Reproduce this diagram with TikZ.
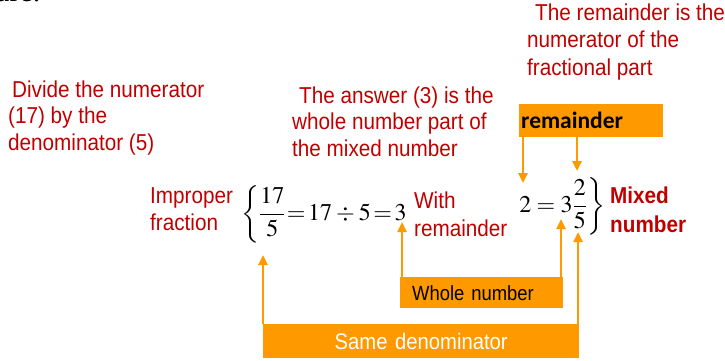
\documentclass[tikz,border=0pt]{standalone}
\usepackage{mathptmx}
\usepackage{fontspec}
\setmainfont{Liberation Serif}
\newfontfamily\notefont{Liberation Sans}[FakeStretch=0.9]
\newfontfamily\remfont{Carlito}
\usetikzlibrary{arrows.meta}
\definecolor{notered}{RGB}{192,0,0}
\definecolor{boxorange}{RGB}{255,153,0}
\tikzset{
    note/.style={text=notered, align=left, inner sep=0pt, anchor=base west,
        font=\notefont\fontsize{23}{26.5}\selectfont},
    mathpart/.style={inner sep=0pt, anchor=base west,
        font=\fontsize{24}{28}\selectfont},
    label box/.style={fill=boxorange, anchor=north west, inner ysep=0pt},
    pointer/.style={draw=boxorange, line width=2.4pt,
        -{Triangle[length=10pt,width=9pt]}},
}
\begin{document}
\begin{tikzpicture}[x=1pt, y=-1pt]
    \useasboundingbox (0,0) rectangle (725,360);

    % cut-off text at the top
    \node[inner sep=0pt, anchor=base west, font=\fontsize{30}{30}\selectfont]
        (are) at (-4,1) {are.};

    % red notes (placed at the baseline of their last line)
    \node[note] (divide) at (8,150)
        {\hspace{4pt}Divide the numerator\\(17) by the\\denominator (5)};
    \node[note] (answer) at (292,156)
        {\hspace{7pt}The answer (3) is the\\whole number part of\\the mixed number};
    \node[note, font=\notefont\fontsize{23}{27.5}\selectfont] (numnote) at (527,75)
        {\hspace{8pt}The remainder is the\\numerator of the\\fractional part};
    \node[note, font=\notefont\fontsize{23}{27}\selectfont] (improperlbl)
        at (150,230) {Improper\\fraction};
    \node[note, font=\notefont\fontsize{23}{28}\selectfont] (withrem) at (414,236)
        {With\\remainder};
    \node[note, font=\notefont\bfseries\fontsize{23}{29}\selectfont] (mixedlbl)
        at (610,232) {Mixed\\number};

    % the two expressions
    \node[mathpart] (improper) at (241,220)
        {$\thickmuskip=2mu \medmuskip=3mu
          \displaystyle\left\{\frac{17}{5}\right.\!=17\div5=3$};
    \node[mathpart] (mixed) at (518,212)
        {$\displaystyle\left.2=3\frac{2}{5}\right\}$};

    % orange boxes
    \node[label box, text width=140pt, inner xsep=2pt, align=left,
        minimum height=33pt, font=\remfont\bfseries\fontsize{23.5}{26}\selectfont]
        (remainder) at (519,104) {remainder};
    \node[label box, text width=139pt, inner xsep=12pt, align=left,
        minimum height=31pt, font=\notefont\fontsize{20.5}{24}\selectfont]
        (whole) at (400,277) {Whole number};
    \node[label box, text width=316pt, inner xsep=0pt, align=center,
        minimum height=34pt, text=white, font=\notefont\fontsize{22.5}{26}\selectfont]
        (samedenom) at (263,324) {Same denominator};

    % arrow tips
    \coordinate (tipA) at (523,183);
    \coordinate (tipB) at (577,171);
    \coordinate (tipC) at (402,222);
    \coordinate (tipD) at (561,219);
    \coordinate (tipE) at (263,255);
    \coordinate (tipF) at (578,232);

    \draw[pointer] (tipA |- remainder.south) -- (tipA);
    \draw[pointer] (tipB |- remainder.south) -- (tipB);
    \draw[pointer] (tipC |- whole.west) -- (tipC);
    \draw[pointer] (tipD |- whole.north) -- (tipD);
    \draw[pointer] (tipE |- samedenom.north) -- (tipE);
    \draw[pointer] (tipF |- samedenom.north) -- (tipF);
\end{tikzpicture}
\end{document}
